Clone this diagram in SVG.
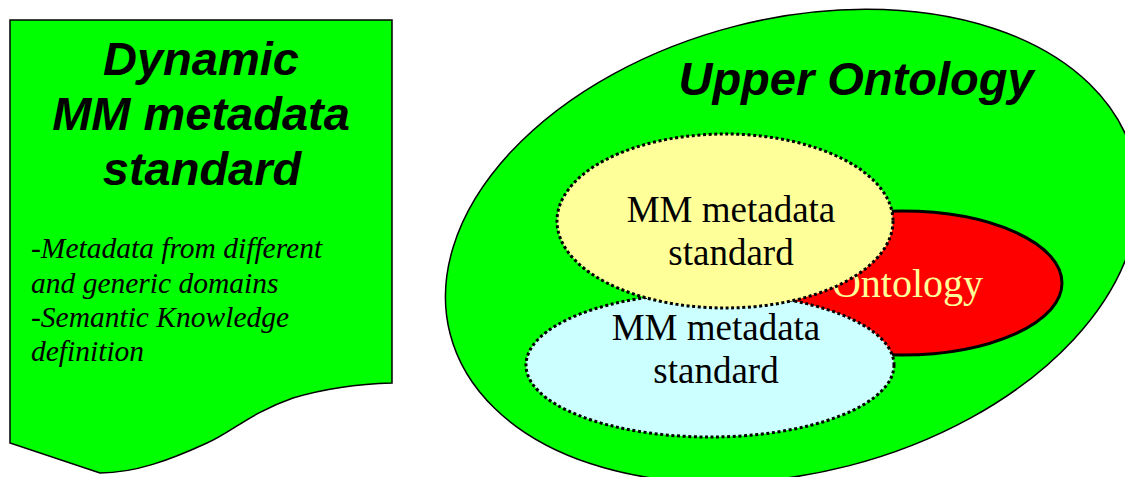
<svg xmlns="http://www.w3.org/2000/svg" width="1125" height="477" viewBox="0 0 1125 477">
  <style>
    .title { font-family: "Liberation Sans", Arial, sans-serif; font-weight: bold; font-style: italic; font-size: 47px; fill: #000; }
    .note { font-family: "Liberation Serif", "Times New Roman", serif; font-style: italic; font-size: 29.5px; fill: #000; }
    .label { font-family: "Liberation Serif", "Times New Roman", serif; font-size: 37px; fill: #000; text-anchor: middle; }
    .dotted { stroke: #000; stroke-width: 3; stroke-dasharray: 3 2.6; }
  </style>

  <!-- Document shape with wavy bottom edge -->
  <g id="dynamic-standard">
    <path d="M10,20 L392,20 L392,383 C355,384 320,390 293,398 C250,413 232,432 207,443 C170,460 135,473 100,473 L10,443 Z" fill="#00FF00" stroke="#000" stroke-width="1.5"/>
    <text class="title" text-anchor="middle" x="201" y="75">Dynamic</text>
    <text class="title" text-anchor="middle" x="201" y="130">MM metadata</text>
    <text class="title" text-anchor="middle" x="202" y="185">standard</text>
    <text class="note" x="31" y="258">-Metadata from different</text>
    <text class="note" x="31" y="293">and generic domains</text>
    <text class="note" x="31" y="327">-Semantic Knowledge</text>
    <text class="note" x="31" y="361">definition</text>
  </g>

  <!-- Outer ellipse: upper ontology -->
  <g id="upper-ontology">
    <ellipse cx="0" cy="0" rx="353" ry="227" transform="translate(792,246) rotate(-14.4)" fill="#00FF00" stroke="#000" stroke-width="1.5"/>
    <text class="title" text-anchor="middle" x="856" y="95">Upper Ontology</text>
  </g>

  <!-- Domain ontology -->
  <g id="ontology">
    <ellipse cx="902" cy="283" rx="160" ry="72" fill="#FF0000" stroke="#000" stroke-width="3"/>
    <text x="983" y="297" text-anchor="end" font-family="Liberation Serif, Times New Roman, serif" font-size="40" fill="#FFFF99">Ontology</text>
  </g>

  <!-- Lower metadata standard -->
  <g id="mm-standard-lower">
    <ellipse class="dotted" cx="710" cy="365" rx="184" ry="72" fill="#CCFFFF"/>
    <text class="label" x="716" y="340">MM metadata</text>
    <text class="label" x="716" y="383">standard</text>
  </g>

  <!-- Upper metadata standard -->
  <g id="mm-standard-upper">
    <ellipse class="dotted" cx="725" cy="221" rx="168" ry="87" fill="#FFFF99"/>
    <text class="label" x="731" y="222">MM metadata</text>
    <text class="label" x="731" y="265">standard</text>
  </g>

  <g id="connectors"/>
</svg>
